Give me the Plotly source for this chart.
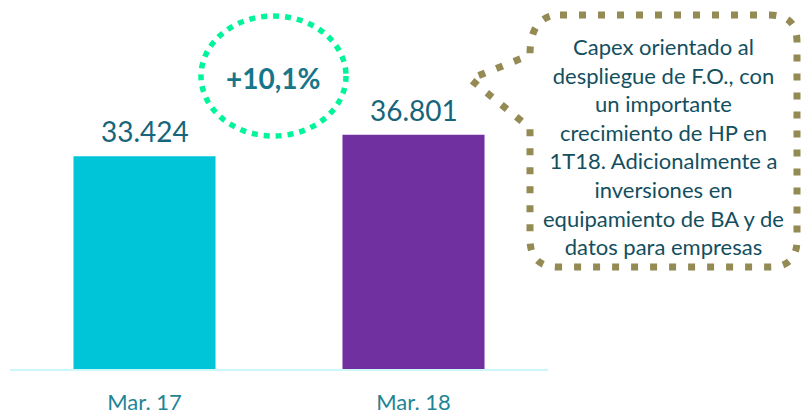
import plotly.graph_objects as go

categories = ["Mar. 17", "Mar. 18"]
values = [33424, 36801]
value_labels = ["33.424", "36.801"]
bar_colors = ["#00C5D8", "#7030A0"]
growth_label = "+10,1%"
callout_lines = [
    "Capex orientado al",
    "despliegue de F.O., con",
    "un importante",
    "crecimiento de HP en",
    "1T18. Adicionalmente a",
    "inversiones en",
    "equipamiento de BA y de",
    "datos para empresas",
]

W, H = 801, 416
ML, MR, MT, MB = 10, 253, 0, 47
PW = W - ML - MR
PH = H - MT - MB


def px(x):
    return (x - ML) / PW


def py(y):
    return (H - MB - y) / PH


fig = go.Figure()
fig.add_trace(go.Bar(
    x=categories, y=values, width=0.528,
    marker=dict(color=bar_colors, line=dict(width=0)),
    hoverinfo="skip",
))
for c, v, t in zip(categories, values, value_labels):
    fig.add_annotation(x=c, y=v, text=t, showarrow=False, xanchor="center",
                       yanchor="bottom", yshift=6,
                       font=dict(family="Lato", size=28, color="#17657A"))

# growth ellipse
fig.add_shape(type="circle", xref="paper", yref="paper",
              x0=px(201), x1=px(346), y0=py(136), y1=py(16),
              line=dict(color="#00F59A", width=5.5, dash="6px,6px"))
fig.add_annotation(xref="paper", yref="paper", x=px(273), y=py(78),
                   text="<b>" + growth_label + "</b>", showarrow=False,
                   font=dict(family="Lato", size=28, color="#17768A"),
                   xanchor="center", yanchor="middle")

# callout bubble
pts = [("M", [(560, 15)]), ("L", [(770, 15)]), ("Q", [(797, 15), (797, 42)]),
       ("L", [(797, 240)]), ("Q", [(797, 267), (770, 267)]), ("L", [(558, 267)]),
       ("Q", [(530, 267), (530, 239)]), ("L", [(530, 128)]), ("L", [(470, 79)]),
       ("L", [(530, 55)]), ("Q", [(530, 15), (560, 15)])]
path = ""
for cmd, cs in pts:
    path += cmd + " " + " ".join(f"{px(a):.5f},{py(b):.5f}" for a, b in cs) + " "
path += "Z"
fig.add_shape(type="path", xref="paper", yref="paper", path=path,
              line=dict(color="#948A54", width=7, dash="7px,12px"))
fig.add_annotation(xref="paper", yref="paper", x=px(663), y=py(146),
                   text="<br>".join(callout_lines), showarrow=False,
                   font=dict(family="Lato", size=22, color="#134F5E"),
                   align="center", xanchor="center", yanchor="middle")

fig.update_layout(
    width=W, height=H, margin=dict(l=ML, r=MR, t=MT, b=MB, pad=0, autoexpand=False),
    paper_bgcolor="white", plot_bgcolor="white", showlegend=False,
    xaxis=dict(range=[-0.5, 1.5], showline=True, linecolor="#CCF8FC", linewidth=2,
               showgrid=False, zeroline=False, ticks="", ticklabelstandoff=13,
               automargin=False,
               tickfont=dict(family="Lato", size=22, color="#1E8595")),
    yaxis=dict(range=[0, 58000], visible=False, showgrid=False, zeroline=False,
               automargin=False),
)

fig.write_html("out.html", config={"displayModeBar": False},
               post_script="document.body.style.margin='0';document.body.style.overflow='hidden';")
